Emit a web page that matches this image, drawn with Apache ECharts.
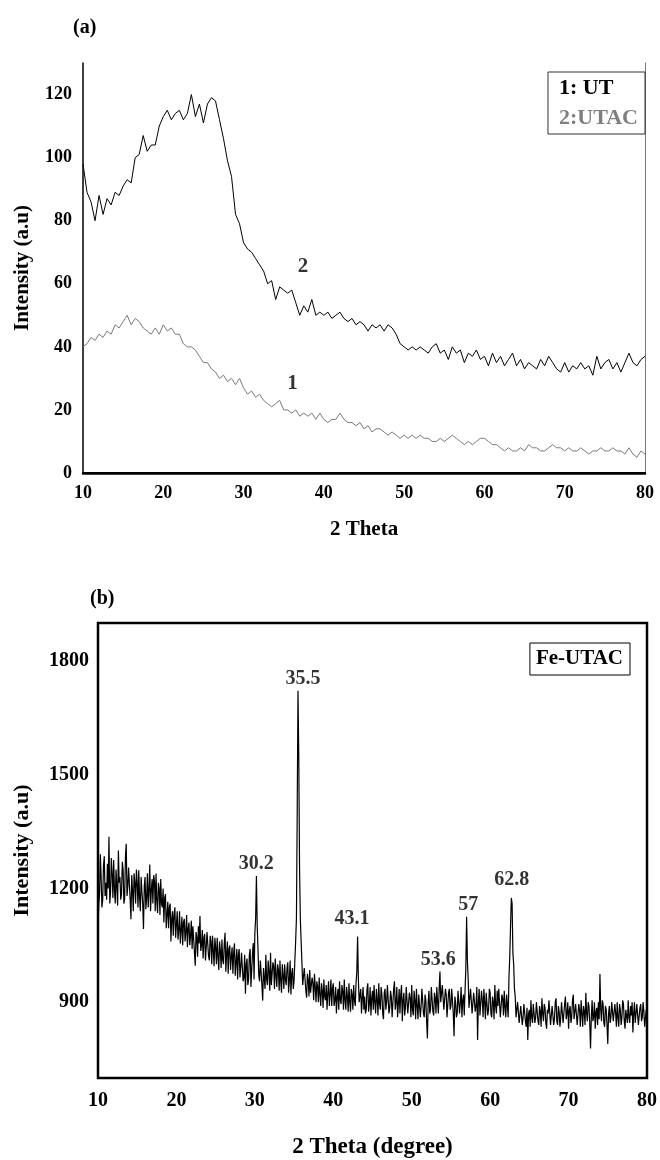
<!DOCTYPE html>
<html>
<head>
<meta charset="utf-8">
<script src="https://cdn.jsdelivr.net/npm/echarts@6/dist/echarts.min.js"></script>
<style>
html,body{margin:0;padding:0;background:#fff;}
#chart{width:660px;height:1160px;}
</style>
</head>
<body>
<div id="chart"></div>
<script>
// ---------- Panel (a) ----------
const aStart = 10;
const aStep = 0.5;
// curve 2 : UTAC (black)
const utacA = [
  98, 89, 86, 80, 88, 82, 87, 85, 89, 88,
  91, 93, 92, 100, 101, 107, 102, 104, 104, 110,
  113, 115, 112, 114, 115, 112, 114, 120, 113, 117,
  111, 117, 119, 118, 112, 106, 99, 94, 82, 79,
  73, 71, 70, 68, 66, 64, 60, 61, 55, 59,
  58, 57, 58, 54, 50, 53, 51, 55, 50, 51,
  50, 51, 49, 50, 51, 49, 48, 49, 47, 48,
  47, 45, 47, 46, 47, 45, 47, 46, 44, 41,
  40, 39, 40, 39, 40, 39, 38, 40, 41, 38,
  39, 36, 40, 38, 39, 35, 38, 37, 39, 36,
  37, 34, 38, 35, 37, 34, 36, 38, 34, 36,
  33, 35, 34, 33, 36, 34, 37, 35, 33, 32,
  35, 32, 34, 33, 35, 33, 34, 31, 37, 33,
  35, 36, 33, 35, 32, 35, 38, 35, 34, 36,
  37
];
// curve 1 : UT (grey)
const utA = [
  40, 41, 43, 42, 44, 43, 45, 44, 47, 46,
  48, 50, 47, 49, 48, 46, 45, 44, 46, 44,
  47, 45, 46, 44, 44, 41, 40, 40, 39, 37,
  35, 35, 33, 32, 30, 31, 29, 30, 28, 30,
  27, 25, 26, 24, 25, 23, 22, 21, 22, 23,
  20, 20, 19, 20, 18, 19, 18, 19, 17, 19,
  17, 16, 17, 17, 19, 17, 16, 16, 15, 16,
  14, 15, 13, 14, 14, 13, 12, 13, 12, 11,
  12, 11, 12, 11, 12, 11, 11, 10, 10, 11,
  10, 11, 12, 11, 10, 9, 10, 9, 10, 11,
  11, 10, 9, 9, 8, 7, 8, 7, 7, 8,
  7, 9, 8, 8, 7, 7, 8, 9, 8, 8,
  7, 8, 7, 7, 8, 7, 6, 7, 7, 8,
  7, 7, 8, 7, 7, 6, 8, 6, 5, 7,
  6
];
const legendA = ['1: UT', '2:UTAC'];
const curveTagText = ['2', '1'];
const curveTagX = [37.4, 36.1];
const curveTagY = [65.3, 28.5];
const xTicksA = [10, 20, 30, 40, 50, 60, 70, 80];
const yTicksA = [0, 20, 40, 60, 80, 100, 120];

// ---------- Panel (b) ----------
const bStart = 10;
const bStep = 0.1;
const feUtacB = [
  1090, 1160, 1185, 1290, 1230, 1150, 1170, 1260, 1285, 1180,
  1215, 1170, 1265, 1200, 1336, 1160, 1190, 1280, 1240, 1175,
  1275, 1195, 1160, 1250, 1205, 1155, 1300, 1215, 1230, 1170,
  1185, 1270, 1250, 1160, 1172, 1285, 1318, 1180, 1205, 1255,
  1260, 1170, 1119, 1235, 1195, 1140, 1240, 1215, 1160, 1250,
  1215, 1150, 1248, 1175, 1140, 1230, 1190, 1160, 1093, 1205,
  1230, 1145, 1175, 1240, 1150, 1195, 1263, 1140, 1195, 1225,
  1160, 1235, 1220, 1140, 1239, 1165, 1135, 1215, 1200, 1130,
  1225, 1160, 1150, 1200, 1110, 1175, 1185, 1095, 1130, 1165,
  1095, 1150, 1160, 1060, 1120, 1140, 1075, 1130, 1150, 1070,
  1105, 1140, 1065, 1090, 1140, 1055, 1090, 1125, 1050, 1110,
  1120, 1060, 1085, 1130, 1045, 1095, 1110, 1050, 1075, 1115,
  1040, 1100, 1095, 1030, 996, 1085, 1070, 1020, 1100, 1055,
  1127, 1035, 1050, 1090, 1015, 1070, 1080, 1010, 1045, 1085,
  1090, 1020, 1010, 1075, 1060, 1000, 1075, 1035, 995, 1070,
  1045, 1000, 1070, 1020, 985, 1060, 1035, 990, 1065, 1010,
  1000, 1055, 1083, 980, 1030, 1060, 975, 1040, 1050, 985,
  1020, 1045, 975, 1030, 1055, 970, 1005, 1040, 960, 1025,
  1040, 965, 990, 1030, 1035, 955, 965, 1025, 922, 1000,
  1015, 945, 960, 1025, 1040, 940, 985, 1030, 1056, 960,
  1083, 1120, 1233, 1100, 1040, 970, 955, 1010, 1015, 945,
  904, 990, 990, 935, 1025, 960, 945, 1010, 980, 930,
  1030, 945, 950, 1005, 995, 935, 1015, 970, 940, 1000,
  985, 930, 1010, 955, 925, 1000, 970, 935, 1000, 960,
  945, 990, 1005, 925, 960, 1010, 920, 975, 990, 935,
  955, 1010, 1060, 1120, 1400, 1721, 1545, 1250, 1119, 1060,
  1005, 945, 950, 990, 985, 930, 912, 975, 960, 915,
  985, 925, 920, 965, 950, 905, 975, 940, 900, 955,
  940, 900, 965, 920, 890, 950, 930, 885, 960, 915,
  905, 945, 880, 925, 955, 890, 920, 960, 890, 935,
  950, 890, 905, 940, 870, 915, 935, 880, 955, 905,
  895, 945, 930, 880, 960, 905, 880, 940, 915, 875,
  950, 900, 875, 935, 920, 880, 945, 905, 890, 950,
  980, 1073, 960, 900, 895, 935, 870, 910, 940, 880,
  915, 870, 880, 935, 950, 875, 895, 940, 865, 910,
  930, 880, 945, 900, 870, 935, 905, 865, 950, 895,
  880, 940, 920, 870, 855, 925, 935, 880, 900, 945,
  945, 870, 885, 930, 915, 860, 865, 935, 955, 880,
  900, 940, 860, 895, 935, 870, 920, 945, 850, 905,
  925, 865, 885, 940, 945, 870, 870, 925, 910, 860,
  945, 880, 865, 930, 905, 855, 935, 890, 855, 920,
  920, 860, 890, 935, 940, 870, 860, 920, 905, 850,
  804, 900, 930, 870, 880, 940, 945, 875, 865, 925,
  910, 870, 940, 900, 870, 935, 981, 900, 895, 945,
  950, 880, 875, 935, 920, 860, 855, 925, 935, 880,
  890, 935, 930, 870, 810, 915, 900, 860, 870, 930,
  935, 870, 900, 940, 860, 905, 920, 865, 930, 990,
  1125, 1010, 960, 885, 880, 935, 935, 870, 870, 925,
  920, 875, 890, 940, 800, 900, 935, 865, 870, 930,
  905, 860, 935, 900, 855, 925, 920, 865, 880, 935,
  925, 870, 860, 915, 900, 855, 945, 890, 870, 930,
  890, 935, 935, 860, 855, 920, 910, 865, 930, 885,
  860, 920, 915, 860, 965, 1020, 1100, 1175, 1160, 1030,
  1000, 935, 915, 860, 860, 900, 895, 845, 840, 890,
  890, 840, 860, 895, 900, 850, 835, 885, 800, 870,
  880, 835, 905, 860, 845, 895, 890, 845, 860, 900,
  900, 850, 840, 890, 875, 835, 910, 870, 850, 895,
  885, 845, 830, 880, 870, 905, 900, 840, 845, 890,
  895, 840, 855, 900, 910, 850, 840, 890, 875, 835,
  860, 900, 905, 845, 845, 895, 915, 855, 870, 900,
  830, 880, 890, 845, 860, 905, 920, 855, 850, 895,
  900, 840, 845, 895, 880, 835, 905, 870, 835, 890,
  875, 840, 925, 870, 850, 900, 890, 845, 778, 860,
  905, 850, 860, 900, 830, 875, 885, 840, 900, 855,
  974, 880, 850, 905, 895, 845, 835, 890, 880, 840,
  790, 870, 890, 845, 860, 900, 905, 850, 845, 895,
  870, 835, 900, 860, 835, 895, 880, 840, 860, 905,
  895, 850, 830, 880, 885, 845, 905, 860, 845, 890,
  865, 900, 820, 870, 900, 845, 850, 895, 890, 840,
  840, 885, 895, 850, 860, 900, 875, 835, 830, 880,
  865
];
const peakText = ['30.2', '35.5', '43.1', '53.6', '57', '62.8'];
const peakTextX = [30.19, 36.14, 42.4, 53.38, 57.22, 62.75];
const peakTextY = [1266, 1752, 1120, 1011, 1157, 1222];
const legendB = ['Fe-UTAC'];
const xTicksB = [10, 20, 30, 40, 50, 60, 70, 80];
const yTicksB = [900, 1200, 1500, 1800];

// ---------- build ----------
const toPairs = (arr, start, step) => arr.map((v, i) => [+(start + i * step).toFixed(2), v]);

const SERIF = 'Liberation Serif';
const tickFont = (size) => ({fontFamily: SERIF, fontWeight: 'bold', fontSize: size, color: '#000'});

const chart = echarts.init(document.getElementById('chart'), null, {renderer: 'canvas'});

chart.setOption({
  animation: false,
  backgroundColor: '#fff',
  title: [
    {text: '(a)', left: 73, top: 18, padding: 0, textStyle: tickFont(20)},
    {text: '(b)', left: 90, top: 589, padding: 0, textStyle: tickFont(20)}
  ],
  legend: [
    {
      data: [
        {name: legendA[0], textStyle: {color: '#000'}},
        {name: legendA[1], textStyle: {color: '#7f7f7f'}}
      ],
      orient: 'vertical', right: 15, top: 72,
      icon: 'none', itemWidth: 0, itemHeight: 0, itemGap: 4,
      padding: [3, 7, 3, 6],
      borderColor: '#333', borderWidth: 1, backgroundColor: '#fff',
      selectedMode: false,
      textStyle: {fontFamily: SERIF, fontWeight: 'bold', fontSize: 22, lineHeight: 26}
    },
    {
      data: [{name: legendB[0], textStyle: {color: '#000'}}],
      orient: 'vertical', right: 30, top: 643,
      icon: 'none', itemWidth: 0, itemHeight: 0,
      padding: [4, 7, 4, 1],
      borderColor: '#000', borderWidth: 1, backgroundColor: '#fff',
      selectedMode: false,
      textStyle: {fontFamily: SERIF, fontWeight: 'bold', fontSize: 21, lineHeight: 24}
    }
  ],
  grid: [
    {left: 83, top: 63, width: 562, height: 410},
    {left: 98, top: 623, width: 552, height: 457, show: true, borderColor: '#000', borderWidth: 2.5, backgroundColor: 'rgba(0,0,0,0)'}
  ],
  xAxis: [
    {
      gridIndex: 0, type: 'value', min: xTicksA[0], max: xTicksA[xTicksA.length - 1], interval: 10,
      axisLine: {lineStyle: {color: '#000', width: 2.5}},
      axisTick: {show: false}, splitLine: {show: false},
      axisLabel: Object.assign({margin: 11}, tickFont(18)),
      name: '2 Theta', nameLocation: 'middle', nameGap: 46,
      nameTextStyle: tickFont(21)
    },
    {
      gridIndex: 0, type: 'value', position: 'top', min: xTicksA[0], max: xTicksA[xTicksA.length - 1],
      axisLine: {lineStyle: {color: '#000', width: 2}},
      axisTick: {show: false}, splitLine: {show: false}, axisLabel: {show: false}
    },
    {
      gridIndex: 1, type: 'value', min: xTicksB[0], max: xTicksB[xTicksB.length - 1], interval: 10,
      axisLine: {show: false},
      axisTick: {show: false}, splitLine: {show: false},
      axisLabel: Object.assign({margin: 13}, tickFont(20)),
      name: '2 Theta (degree)', nameLocation: 'middle', nameGap: 58,
      nameTextStyle: tickFont(23)
    }
  ],
  yAxis: [
    {
      gridIndex: 0, type: 'value', min: 0, max: 130, interval: 10,
      axisLine: {show: true, lineStyle: {color: '#000', width: 1.5}},
      axisTick: {show: false}, splitLine: {show: false},
      axisLabel: Object.assign({margin: 11, formatter: v => yTicksA.includes(v) ? String(v) : ''}, tickFont(18)),
      name: 'Intensity (a.u)', nameLocation: 'middle', nameGap: 50,
      nameTextStyle: tickFont(21)
    },
    {
      gridIndex: 0, type: 'value', position: 'right', min: 0, max: 130,
      axisLine: {show: true, lineStyle: {color: '#777', width: 1}},
      axisTick: {show: false}, splitLine: {show: false}, axisLabel: {show: false}
    },
    {
      gridIndex: 1, type: 'value', min: 700, max: 1900, interval: 100,
      axisLine: {show: false},
      axisTick: {show: false}, splitLine: {show: false},
      axisLabel: Object.assign({margin: 9, formatter: v => yTicksB.includes(v) ? String(v) : ''}, tickFont(20)),
      name: 'Intensity (a.u)', nameLocation: 'middle', nameGap: 65,
      nameTextStyle: tickFont(22)
    }
  ],
  series: [
    {
      name: legendA[0], type: 'line', xAxisIndex: 0, yAxisIndex: 0,
      data: toPairs(utA, aStart, aStep), showSymbol: false, symbol: 'none',
      lineStyle: {color: '#7a7a7a', width: 1}, itemStyle: {color: '#7a7a7a'}, z: 3
    },
    {
      name: legendA[1], type: 'line', xAxisIndex: 0, yAxisIndex: 0,
      data: toPairs(utacA, aStart, aStep), showSymbol: false, symbol: 'none',
      lineStyle: {color: '#000', width: 1}, itemStyle: {color: '#000'}, z: 3
    },
    {
      type: 'scatter', xAxisIndex: 0, yAxisIndex: 0, symbolSize: 0,
      data: curveTagText.map((t, i) => [curveTagX[i], curveTagY[i], t]),
      label: {show: true, position: 'inside', formatter: p => p.value[2], fontFamily: SERIF, fontWeight: 'bold', fontSize: 21, color: '#000'},
      silent: true, z: 5
    },
    {
      name: legendB[0], type: 'line', xAxisIndex: 2, yAxisIndex: 2,
      data: toPairs(feUtacB, bStart, bStep), showSymbol: false, symbol: 'none',
      lineStyle: {color: '#000', width: 1.2}, itemStyle: {color: '#000'}, z: 3
    },
    {
      type: 'scatter', xAxisIndex: 2, yAxisIndex: 2, symbolSize: 0,
      data: peakText.map((t, i) => [peakTextX[i], peakTextY[i], t]),
      label: {show: true, position: 'inside', formatter: p => p.value[2], fontFamily: SERIF, fontWeight: 'bold', fontSize: 20, color: '#000'},
      silent: true, z: 5
    }
  ]
});
</script>
</body>
</html>
